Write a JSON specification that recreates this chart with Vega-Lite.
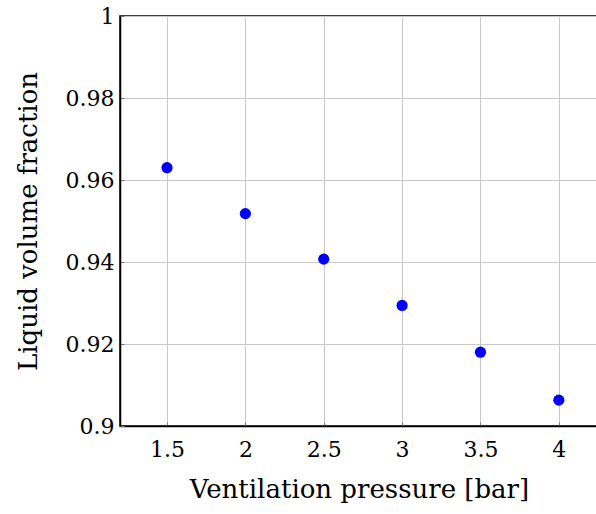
{
  "$schema": "https://vega.github.io/schema/vega-lite/v6.json",
  "autosize": "none",
  "width": 478,
  "height": 410,
  "padding": {"left": 120, "top": 16, "right": 0, "bottom": 90},
  "background": "white",
  "config": {
    "font": "DejaVu Serif",
    "view": {"stroke": "black", "strokeWidth": 1.5}
  },
  "data": {
    "values": [
      {"pressure": 1.5, "fraction": 0.9630},
      {"pressure": 2.0, "fraction": 0.9518},
      {"pressure": 2.5, "fraction": 0.9407},
      {"pressure": 3.0, "fraction": 0.9294},
      {"pressure": 3.5, "fraction": 0.9180},
      {"pressure": 4.0, "fraction": 0.9063}
    ]
  },
  "mark": {"type": "point", "filled": true, "color": "#0000ff", "opacity": 1, "size": 125},
  "encoding": {
    "x": {
      "field": "pressure",
      "type": "quantitative",
      "scale": {"domain": [1.2, 4.25], "nice": false, "zero": false},
      "axis": {
        "title": "Ventilation pressure [bar]",
        "values": [1.5, 2, 2.5, 3, 3.5, 4],
        "format": "~g",
        "grid": true,
        "gridColor": "#c8c8c8",
        "gridWidth": 1,
        "domainColor": "black",
        "domainWidth": 1.5,
        "tickSize": -4,
        "tickColor": "#777777",
        "labelFont": "DejaVu Serif",
        "labelFontSize": 22,
        "labelColor": "black",
        "labelPadding": 17,
        "titleFont": "DejaVu Serif",
        "titleFontSize": 26,
        "titleFontWeight": "normal",
        "titleColor": "black",
        "titlePadding": 16
      }
    },
    "y": {
      "field": "fraction",
      "type": "quantitative",
      "scale": {"domain": [0.9, 1.0], "nice": false, "zero": false},
      "axis": {
        "title": "Liquid volume fraction",
        "values": [0.9, 0.92, 0.94, 0.96, 0.98, 1.0],
        "format": ".2~f",
        "grid": true,
        "gridColor": "#c8c8c8",
        "gridWidth": 1,
        "domainColor": "black",
        "domainWidth": 1.5,
        "tickSize": -4,
        "tickColor": "#777777",
        "labelFont": "DejaVu Serif",
        "labelFontSize": 22,
        "labelColor": "black",
        "labelPadding": 10,
        "titleFont": "DejaVu Serif",
        "titleFontSize": 26,
        "titleFontWeight": "normal",
        "titleColor": "black",
        "titlePadding": 24
      }
    }
  }
}
